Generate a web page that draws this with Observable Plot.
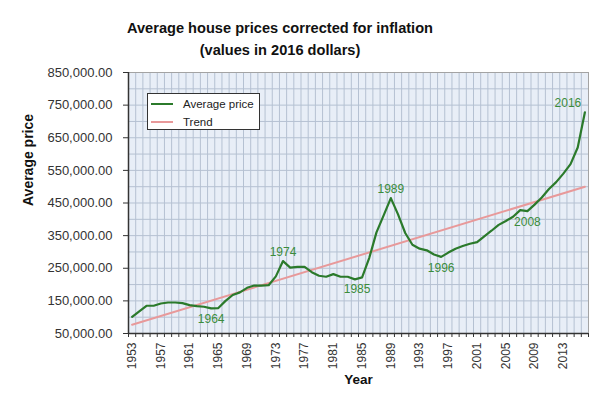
<!DOCTYPE html>
<html>
<head>
<meta charset="utf-8">
<script src="https://cdn.jsdelivr.net/npm/d3@7"></script>
<script src="https://cdn.jsdelivr.net/npm/@observablehq/plot@0.6"></script>
<style>
  html, body { margin: 0; padding: 0; background: #fff; overflow: hidden; }
  #wrap { position: relative; width: 598px; height: 398px; font-family: "Liberation Sans", Arial, sans-serif; }
  #title { width: 560px; height: 62px; padding-top: 17px; box-sizing: border-box; text-align: center;
           font-weight: bold; font-size: 14.6px; line-height: 22px; color: #111; }
  #legend { position: absolute; left: 147px; top: 93px; width: 113px; height: 37px; box-sizing: border-box;
            border: 1.5px solid #333; background: #fff; font-size: 11.5px; color: #222; }
  .row { position: absolute; left: 3px; height: 14px; display: flex; align-items: center; }
  .sw { width: 22px; height: 0; border-top: 2px solid; margin-right: 10px; }
</style>
</head>
<body>
<div id="wrap">
  <div id="title">Average house prices corrected for inflation<br>(values in 2016 dollars)</div>
  <div id="chart"></div>
  <div id="legend">
    <div class="row" style="top:3px"><span class="sw" style="border-color:#2b7a2b"></span>Average price</div>
    <div class="row" style="top:21px"><span class="sw" style="border-color:#e8999a"></span>Trend</div>
  </div>
</div>
<script>
const years = [1953,1954,1955,1956,1957,1958,1959,1960,1961,1962,1963,1964,1965,1966,1967,1968,1969,1970,
  1971,1972,1973,1974,1975,1976,1977,1978,1979,1980,1981,1982,1983,1984,1985,1986,1987,1988,1989,1990,
  1991,1992,1993,1994,1995,1996,1997,1998,1999,2000,2001,2002,2003,2004,2005,2006,2007,2008,2009,2010,
  2011,2012,2013,2014,2015,2016];
const prices = [101000,118000,135000,135000,142000,145000,145000,143000,137000,134000,132000,127000,128000,
  150000,168000,176000,190000,197000,197000,198000,225000,272000,252000,254000,254000,238000,227000,224000,
  232000,224000,224000,216000,222000,282000,360000,412000,465000,415000,358000,322000,310000,305000,292000,
  285000,298000,310000,318000,325000,330000,348000,365000,383000,395000,408000,428000,425000,445000,467000,
  493000,514000,540000,569000,620000,728000];
const trendYears = [1953, 2016];
const trendPrices = [77000, 500000];
const xTickLabels = [1953,1957,1961,1965,1969,1973,1977,1981,1985,1989,1993,1997,2001,2005,2009,2013];
const yTickValues = [50000,150000,250000,350000,450000,550000,650000,750000,850000];
const labelsBelow = [1964, 1996, 2008];
const labelsBelowLeft = [1985];
const labelsAbove = [1974, 1989];
const labelsEnd = [2016];

const data = years.map((y, i) => ({year: y, price: prices[i]}));
const trend = trendYears.map((y, i) => ({year: y, price: trendPrices[i]}));
const priceOf = yr => prices[years.indexOf(yr)];
const gridX = d3.range(1953.5, 2016.5, 1);
const gridY = d3.range(100000, 850000, 50000);
const minorTicks = d3.range(1952.5, 2017, 1);
const green = "#3b8c3b";

const chart = Plot.plot({
  width: 598, height: 336,
  marginTop: 10, marginBottom: 65, marginLeft: 128, marginRight: 10,
  style: {fontFamily: "'Liberation Sans', Arial, sans-serif", fontSize: "12px", color: "#333", background: "transparent", overflow: "visible"},
  x: {domain: [1952.5, 2016.5]},
  y: {domain: [50000, 850000]},
  marks: [
    Plot.frame({fill: "#e8eef7", stroke: null}),
    Plot.ruleX(gridX, {stroke: "#b5c1d2", strokeWidth: 1}),
    Plot.ruleY(gridY, {stroke: "#b5c1d2", strokeWidth: 1}),
    Plot.frame({stroke: "#a3a3a3"}),
    Plot.line(trend, {x: "year", y: "price", stroke: "#e8999a", strokeWidth: 2}),
    Plot.line(data, {x: "year", y: "price", stroke: "#2b7a2b", strokeWidth: 2.2}),
    Plot.text(labelsBelow, {x: d => d, y: priceOf, text: d => String(d), dy: 11, fill: green, fontSize: 12}),
    Plot.text(labelsBelowLeft, {x: d => d, y: priceOf, text: d => String(d), dy: 12, dx: -5, fill: green, fontSize: 12}),
    Plot.text(labelsAbove, {x: d => d, y: priceOf, text: d => String(d), dy: -9, fill: green, fontSize: 12}),
    Plot.text(labelsEnd, {x: d => d, y: priceOf, text: d => String(d), dy: -9, dx: -17, fill: green, fontSize: 12}),
    Plot.axisY({ticks: yTickValues, tickFormat: d3.format(",.2f"), tickSize: 5, tickPadding: 11, fontSize: 13, label: null, stroke: "#333"}),
    Plot.axisX({ticks: minorTicks, tickSize: 4, tickFormat: () => "", label: null, stroke: "#333"}),
    Plot.axisX({ticks: xTickLabels, tickSize: 0, tickPadding: 9, tickRotate: -90, fontSize: 12, tickFormat: d => String(d), label: null}),
    Plot.ruleX([1952.5], {stroke: "#333", strokeWidth: 1.5}),
    Plot.ruleY([50000], {stroke: "#333", strokeWidth: 1.5}),
    Plot.text(["Year"], {frameAnchor: "bottom", dy: 50, fontWeight: "bold", fontSize: 13.5, fill: "#111"}),
    Plot.text(["Average price"], {frameAnchor: "left", rotate: -90, dx: -100, dy: 3, fontWeight: "bold", fontSize: 14, fill: "#111"})
  ]
});
document.getElementById("chart").appendChild(chart);
</script>
</body>
</html>
